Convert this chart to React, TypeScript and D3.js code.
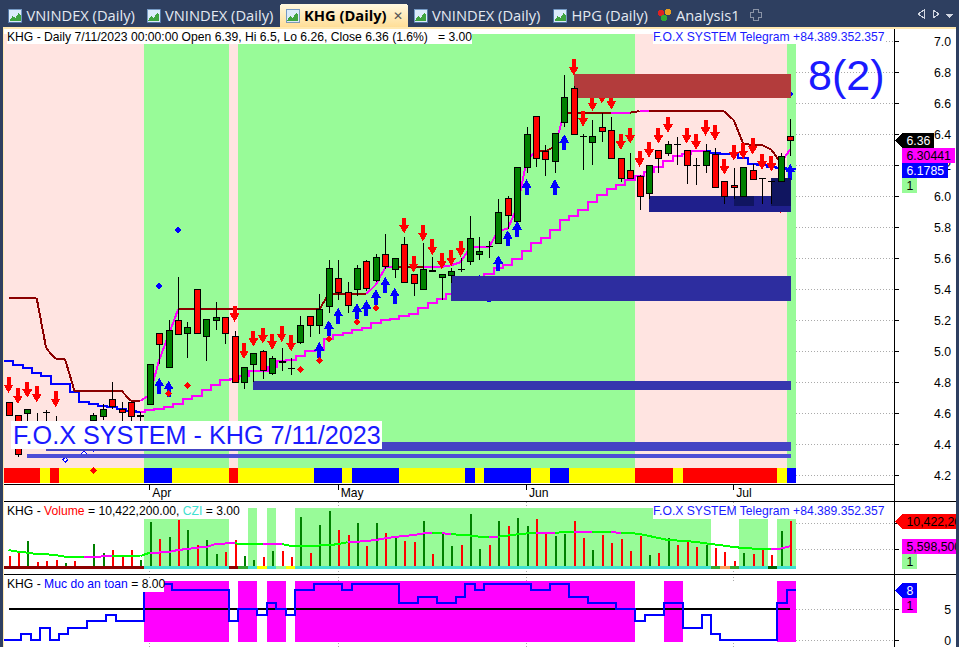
import React from 'react';
import * as d3 from 'd3';

// daily bars
const opens = [4.67,4.59,4.60,4.52,4.61,4.52,4.46,4.50,4.48,4.56,4.58,4.69,4.63,4.67,4.585,4.66,5.12,4.90,5.20,5.12,5.40,5.10,5.20,5.22,5.10,4.80,4.92,5.00,4.86,4.94,4.89,5.06,5.23,5.17,5.29,5.47,5.38,5.40,5.58,5.46,5.63,5.53,5.69,5.50,5.40,5.525,5.48,5.49,5.53,5.58,5.63,5.68,5.70,5.99,5.84,6.19,6.52,6.29,6.23,6.48,6.70,6.39,6.35,6.45,6.43,6.25,6.17,6.13,6.02,6.30,6.28,6.34,6.30,6.20,6.20,6.27,6.10,6.07,6.00,6.17,6.12,6.10,6.10,6.39];
const highs = [4.67,4.59,4.63,4.60,4.62,4.58,4.52,4.53,4.52,4.60,4.66,4.80,4.67,4.67,4.61,4.92,5.12,5.20,5.48,5.19,5.40,5.21,5.32,5.22,5.13,4.90,4.99,5.01,4.97,5.02,4.96,5.23,5.23,5.37,5.59,5.59,5.45,5.56,5.59,5.63,5.76,5.60,5.74,5.50,5.70,5.61,5.50,5.54,5.60,5.87,5.74,5.71,5.98,6.00,6.19,6.45,6.52,6.33,6.41,6.78,6.71,6.40,6.49,6.54,6.51,6.25,6.28,6.14,6.20,6.30,6.36,6.38,6.30,6.25,6.34,6.31,6.10,6.18,6.19,6.21,6.12,6.10,6.28,6.5];
const lows = [4.59,4.32,4.52,4.46,4.48,4.45,4.44,4.44,4.45,4.53,4.56,4.63,4.54,4.54,4.54,4.66,4.92,4.90,5.11,4.96,5.11,4.94,5.14,5.05,4.80,4.76,4.80,4.82,4.85,4.87,4.85,5.05,5.09,5.11,5.25,5.33,5.25,5.36,5.39,5.45,5.53,5.47,5.45,5.36,5.40,5.52,5.33,5.44,5.51,5.56,5.59,5.60,5.69,5.79,5.84,6.15,6.19,6.13,6.15,6.45,6.40,6.17,6.20,6.35,6.25,6.09,6.12,5.91,5.98,6.15,6.26,6.20,6.08,6.07,6.15,6.06,5.95,5.98,6.00,6.11,5.95,5.95,6.10,6.26];
const closes = [4.59,4.34,4.63,4.50,4.61,4.48,4.50,4.46,4.49,4.59,4.63,4.65,4.61,4.58,4.59,4.92,5.05,5.14,5.11,5.16,5.12,5.21,5.22,5.12,4.80,4.90,4.99,4.88,4.96,4.935,4.89,5.17,5.17,5.27,5.54,5.38,5.30,5.54,5.41,5.61,5.55,5.60,5.45,5.44,5.53,5.52,5.50,5.52,5.53,5.73,5.65,5.68,5.90,5.88,6.19,6.40,6.25,6.24,6.41,6.64,6.40,6.39,6.39,6.42,6.25,6.12,6.12,6.00,6.20,6.25,6.34,6.34,6.20,6.20,6.29,6.06,6.00,6.06,6.19,6.11,6.12,6.10,6.26,6.36];

// trailing lines on the price pane
const upperLine = [5.345,5.345,5.345,5.34,5.02,4.95,4.95,4.745,4.745,4.745,4.745,4.745,4.745,4.68,4.68,4.72,4.945,5.105,5.27,5.27,5.27,5.27,5.27,5.27,5.27,5.27,5.27,5.27,5.27,5.27,5.27,5.27,5.27,5.27,5.37,5.37,5.37,5.37,5.37,5.43,5.54,5.545,5.545,5.545,5.545,5.545,5.545,5.555,5.575,5.67,5.67,5.67,5.78,5.79,5.93,6.23,6.29,6.29,6.32,6.54,6.54,6.54,6.54,6.54,6.54,6.54,6.54,6.55,6.55,6.55,6.55,6.55,6.55,6.55,6.55,6.55,6.55,6.49,6.34,6.33,6.33,6.30,6.215,6.30441];
const upperAccentSegments = [14,15,16,17,38,39,40,44,45,46,47,48,49,50,51,52,53,54,55,58,64,65,67,82];
const lowerLine = [4.94,4.91,4.89,4.86,4.84,4.79,4.79,4.74,4.675,4.66,4.65,4.64,4.63,4.615,4.61,4.62,4.63,4.64,4.66,4.69,4.71,4.75,4.78,4.815,4.82,4.84,4.87,4.875,4.90,4.94,4.945,4.97,5.00,5.01,5.08,5.105,5.12,5.14,5.15,5.18,5.20,5.21,5.23,5.24,5.28,5.31,5.34,5.37,5.395,5.43,5.46,5.50,5.535,5.56,5.595,5.65,5.70,5.73,5.78,5.85,5.875,5.91,5.965,6.01,6.05,6.07,6.105,6.13,6.16,6.19,6.23,6.26,6.27,6.29,6.29,6.28,6.27,6.27,6.25,6.21,6.20,6.19,6.185,6.1785];
const lowerAccentFrom = 14;
const lowerAccentTo = 74;

// signal shapes: bar index and price of the tip
const sellBars = [0,1,2,3,5,24,25,26,27,28,29,30,42,43,44,45,46,47,48,60,61,62,63,64,65,66,67,68,69,70,72,73,74,75,76,77,78,79,80,81,82];
const sellPrices = [4.73,4.66,4.70,4.67,4.64,5.19,4.95,5.03,5.05,5.01,5.06,5.00,5.76,5.51,5.71,5.62,5.53,5.55,5.61,6.78,6.45,6.55,6.60,6.56,6.30,6.34,6.19,6.25,6.34,6.41,6.34,6.30,6.39,6.36,6.14,6.23,6.24,6.27,6.17,6.16,5.89];
const buyBars = [15,16,17,33,34,35,37,38,39,40,41,50,51,52,53,54,55,58,59,83];
const buyPrices = [4.47,4.83,4.81,5.06,5.20,5.28,5.31,5.33,5.40,5.48,5.41,5.49,5.42,5.62,5.78,5.84,6.11,6.11,6.40,6.21];
const redDiamondBars = [9,17,19,31,33,34,37,39];
const redDiamondPrices = [4.23,4.73,4.78,4.88,4.94,5.08,5.19,5.28];
const blueDiamondBars = [16,18,83];
const blueDiamondPrices = [5.42,5.78,6.66];
const hollowDiamondBars = [4,6,7,8,9];
const hollowDiamondPrices = [4.39,4.30,4.38,4.34,4.37];

// support / resistance zones: start bar, end bar, top and bottom price
const zoneStarts = [60,68,47,26,4,2,77,81];
const zoneEnds = [83,83,83,83,83,83,79,83];
const zoneTops = [6.79,6.0,5.486,4.808,4.415,4.337,6.0,6.12];
const zoneBottoms = [6.634,5.90,5.325,4.75,4.36,4.31,5.94,5.94];
const zoneFills = ['#B33C3C','#1F1F8C','#2D2D9F','#3636AE','#4444C4','#4D4DD6','#101560','#101560'];

// bar-by-bar state codes
const priceBackground = 'P'.repeat(15) + 'G'.repeat(9) + 'P' + 'G'.repeat(42) + 'P'.repeat(16) + 'G';
const ribbon = 'RRRRYRYYYYYYYYYBBBYYYYYYRYYYYYYYYBBBYBBBBBYYYYYYYBYBBBBBYYBBYYYYYYYRRRRYRRRRRRRRRRYB';
const volumeBackground = 'WWWWWWWWWWWWWWWGGGGGGGGGWWGWGWWGGGGGGGGGGGGGGGGGGGGGGGGGGGGGGGGGGGGGGGGGGGGWWWGGGWGG';
const volumeRibbon = 'DDDDDDDDDDDDDDDCCCCCCCCCDLCYCPYCCCCCCCCCCCCCCCCCCCCCCCCCCCCCCCCCCCCCCCCCCCCLSLCCCKCC';
const safetyBackground = 'WWWWWWWWWWWWWWWMMMMMMMMMWMMWMMWMMMMMMMMMMMMMMMMMMMMMMMMMMMMMMMMMMMMWWWMMWWWWWWWWWWMM';

const volumes = [3.71,4.73,6.54,2.56,2.75,2.94,2.31,2.75,1.65,6.02,4.23,4.87,3.58,4.87,2.94,10.25,6.98,7.37,10.63,8.71,5.83,6.79,4.10,4.48,6.73,3.71,2.94,3.52,4.67,4.67,3.52,11.21,4.29,9.67,12.37,8.71,7.75,10.06,5.63,10.06,8.13,7.37,6.6,6.4,10.44,4.1,8.08,5.63,5.83,11.79,5.06,5.83,10.44,9.48,11.02,9.48,10.83,7.94,7.56,7.94,10.44,7.17,4.87,7.75,6.21,6.98,4.67,7.56,3.9,4.29,7.17,5.83,6.6,5.44,5.83,5.25,4.48,2.75,4.29,4.1,5.06,3.9,8.52,10.4222];
const volumeAverage = [4.87,4.54,4.35,4.10,4.04,3.90,3.58,3.58,3.52,3.58,3.62,3.71,3.71,3.71,3.71,4.35,4.38,4.48,4.87,5.06,5.31,5.44,6.02,6.12,6.15,6.02,6.02,6.02,6.02,6.02,5.63,5.63,5.63,5.73,5.77,6.02,6.35,6.46,6.60,6.79,7.12,7.37,7.56,7.75,8.04,8.19,8.08,7.94,7.75,7.65,7.42,7.42,7.42,7.65,7.88,8.04,8.19,8.19,8.19,8.27,8.38,8.38,8.38,8.38,8.27,8.19,8.13,7.94,7.56,7.17,6.79,6.69,6.6,6.4,6.15,5.92,5.69,5.44,5.25,5.15,5.06,5.06,5.15,5.5985];
const volumeAccentSegments = [8,9,10,15,16,17,18,19,20,21,22,23,27,28,36,37,38,39,40,41,42,43,44,46,51,56,57,60,61,64,81,82];

const safety = [0,0,1,0,2,0,1,2,2,3,3,4,3,3,3,8,8,9,8,8,8,8,8,8,3,5,5,4,6,5,4,8,8,9,9,9,8,9,9,9,9,9,6,6,7,7,6,6,7,9,8,9,9,9,9,9,8,8,9,9,7,7,6,6,6,5,5,3,4,4,6,6,2,2,4,1,0,0,0,0,0,0,6,8];

const priceTicks = [7.0,6.8,6.6,6.4,6.2,6.0,5.8,5.6,5.4,5.2,5.0,4.8,4.6,4.4,4.2];
const volumeGrid = [10,5];
const safetyTicks = [5,0];
const monthLabels = ['Apr','May','Jun','Jul'];
const monthBars = [15,35,55,77];
const tabLabels = ['VNINDEX (Daily)','VNINDEX (Daily)','KHG (Daily)','VNINDEX (Daily)','HPG (Daily)','Analysis1'];
const tabTextX = [26.5,165,304,432,571.5,676];

const W = 959;
const H = 647;
const FONT = '"Liberation Sans", Arial, sans-serif';
const AXIS_X = 894.5;
const FRAME_RIGHT = 956;
const PRICE_TOP = 34;
const PRICE_BOTTOM = 482.7;
const FOX_BLUE = '#1A1AFF';
const CAPTION_SIZE = 12.15;

const x = d3.scaleLinear().domain([0, 83]).range([8.5, 790.3]);
const edge = d3.scaleLinear().domain([15, 84]).range([144, 796]);
const yPrice = d3.scaleLinear().domain([6, 7]).range([196.3, 41.3]);
const yVolume = d3.scaleLinear().domain([0, 10]).range([575.3, 523.3]);
const ySafety = d3.scaleLinear().domain([0, 5]).range([640, 609]);

const bgColors: Record<string, string> = { P: '#FFE4E1', G: '#98FB98', W: '#FFFFFF', M: '#FF00FF' };
const ribbonColors: Record<string, string> = { R: '#FF0000', Y: '#FFFF00', B: '#0000FF' };
const volumeRibbonColors: Record<string, string> = { D: '#8B0000', C: '#40E0D0', L: '#32A832', Y: '#FFFF00', P: '#98FB98', S: '#F4A460', K: '#006400' };

// group a code string into runs of the same code
const runs = (codes: string) => {
  const out: { start: number; end: number; code: string }[] = [];
  codes.split('').forEach((code, i) => {
    const last = out[out.length - 1];
    if (last && last.code === code) last.end = i + 1;
    else out.push({ start: i, end: i + 1, code });
  });
  return out;
};

const Bands = ({ codes, colors, top, bottom }: { codes: string; colors: Record<string, string>; top: number; bottom: number }) => (
  <g>
    {runs(codes).map(r => {
      const left = Math.max(4, Math.round(edge(r.start)));
      return <rect key={r.start} x={left} y={top} width={Math.round(edge(r.end)) - left} height={bottom - top} fill={colors[r.code]} />;
    })}
  </g>
);

const segmentPath = d3.line<[number, number]>().x(d => d[0]).y(d => d[1]);
const stepPath = d3.line<[number, number]>().x(d => d[0]).y(d => d[1]).curve(d3.curveStep);

const downArrow = 'M0,0 L-5,-8.5 L-2,-8.5 L-2,-16 L2,-16 L2,-8.5 L5,-8.5 Z';
const upArrow = 'M0,0 L-5,8.5 L-2,8.5 L-2,16 L2,16 L2,8.5 L5,8.5 Z';
const diamond = (r: number) => `M0,${-r} L${r},0 L0,${r} L${-r},0 Z`;

const Candles = () => (
  <g>
    {opens.map((open, i) => {
      const cx = Math.round(x(i)) + 0.5;
      const close = closes[i];
      const top = Math.round(yPrice(Math.max(open, close))) + 0.5;
      const bottom = Math.round(yPrice(Math.min(open, close))) + 0.5;
      return (
        <g key={i}>
          <line x1={cx} x2={cx} y1={yPrice(highs[i])} y2={yPrice(lows[i])} stroke="#000" />
          {open === close ? (
            <line x1={cx - 3.5} x2={cx + 3.5} y1={top} y2={top} stroke="#000" />
          ) : (
            <rect x={cx - 3} y={top} width={6} height={Math.max(1, bottom - top)} fill={close > open ? '#008000' : '#FF0000'} stroke="#000" />
          )}
        </g>
      );
    })}
  </g>
);

const TagRight = ({ y, h, x0, x1, fill, color, text, pointed }: { y: number; h: number; x0: number; x1: number; fill: string; color: string; text: string; pointed?: boolean }) => (
  <g>
    {pointed ? (
      <path d={`M${x0 - 7},${y + h / 2} L${x0},${y} H${x1} V${y + h} H${x0} Z`} fill={fill} />
    ) : (
      <rect x={x0} y={y} width={x1 - x0} height={h} fill={fill} />
    )}
    <text x={x0 + 4.5} y={y + h / 2 + 4.5} fontSize={12.3} fontFamily={FONT} fill={color}>{text}</text>
  </g>
);

const TabIcon = ({ px }: { px: number }) => (
  <g>
    <rect x={px} y={9} width={13} height={13} fill="#DCEBFA" stroke="#5B86B8" strokeWidth={0.8} />
    <path d={`M${px + 1},21 L${px + 4},16 L${px + 7},18 L${px + 10},13 L${px + 12},15 V21 Z`} fill="#3FA33F" />
  </g>
);

const Tabs = () => (
  <g>
    <rect x={0} y={0} width={W} height={28} fill="#2E3F60" />
    <defs>
      <linearGradient id="activeTab" x1="0" x2="0" y1="0" y2="1">
        <stop offset="0" stopColor="#FFF8E0" />
        <stop offset="1" stopColor="#FFDD94" />
      </linearGradient>
    </defs>
    <path d="M280,28 V7 Q280,4 283,4 H405 Q408,4 408,7 V28 Z" fill="url(#activeTab)" />
    {tabLabels.map((label, i) => (
      <g key={i}>
        {i < 5 && <TabIcon px={tabTextX[i] - 18} />}
        <text
          x={tabTextX[i]}
          y={21}
          fontSize={14.7}
          fontFamily='"Open Sans", "Noto Sans", sans-serif'
          fontWeight={i === 2 ? 700 : 400}
          fill={i === 2 ? '#000' : '#E4E9F2'}
        >
          {label}
        </text>
      </g>
    ))}
    <text x={398} y={20} fontSize={12} fontFamily={FONT} fill="#555" textAnchor="middle">✕</text>
    <g>
      <circle cx={661} cy={13} r={3} fill="#D22" />
      <circle cx={668} cy={12} r={3} fill="#E8A020" />
      <circle cx={664} cy={18} r={3} fill="#3A3" />
    </g>
    <path d="M750,12 h3 v-3 h5 v3 h3 v5 h-3 v3 h-5 v-3 h-3 Z" fill="none" stroke="#8A93A6" />
    <path d="M924,10 L918,14 L924,18 Z M933,10 L939,14 L933,18 Z" fill="none" stroke="#D0D5E0" />
    <path d="M945,14 H953 L949,18 Z" fill="#D0D5E0" />
  </g>
);

export default function App() {
  return (
    <svg
      width={W}
      height={H}
      viewBox={`0 0 ${W} ${H}`}
      shapeRendering="crispEdges"
      style={{ position: 'absolute', left: 0, top: 0, display: 'block', background: '#fff' }}
    >
      {/* grid behind everything */}
      {priceTicks.map(t => (
        <line key={t} x1={4} x2={AXIS_X} y1={yPrice(t)} y2={yPrice(t)} stroke="#aaa" strokeDasharray="1 2" />
      ))}
      {volumeGrid.map(t => (
        <line key={t} x1={4} x2={AXIS_X} y1={yVolume(t)} y2={yVolume(t)} stroke="#aaa" strokeDasharray="1 2" />
      ))}
      {safetyTicks.map(t => (
        <line key={t} x1={4} x2={AXIS_X} y1={ySafety(t)} y2={ySafety(t)} stroke="#aaa" strokeDasharray="1 2" />
      ))}
      {monthBars.map(b => (
        <line key={b} x1={x(b)} x2={x(b)} y1={34} y2={647} stroke="#aaa" strokeDasharray="1 2" />
      ))}

      {/* price pane */}
      <Bands codes={priceBackground} colors={bgColors} top={PRICE_TOP} bottom={PRICE_BOTTOM} />
      <Bands codes={ribbon} colors={ribbonColors} top={468} bottom={PRICE_BOTTOM} />

      {lowerLine.slice(0, -1).map((v, i) => (
        <path
          key={i}
          d={stepPath([[x(i), yPrice(v)], [x(i + 1), yPrice(lowerLine[i + 1])]]) as string}
          fill="none"
          strokeWidth={2}
          stroke={i >= lowerAccentFrom && i < lowerAccentTo ? '#FF00FF' : '#0000FF'}
        />
      ))}
      <line x1={4} x2={x(0)} y1={yPrice(lowerLine[0])} y2={yPrice(lowerLine[0])} stroke="#0000FF" strokeWidth={2} />
      <line x1={x(83)} x2={796} y1={yPrice(lowerLine[83])} y2={yPrice(lowerLine[83])} stroke="#0000FF" strokeWidth={2} />
      {upperLine.slice(0, -1).map((v, i) => (
        <path
          key={i}
          d={segmentPath([[x(i), yPrice(v)], [x(i + 1), yPrice(upperLine[i + 1])]]) as string}
          fill="none"
          strokeWidth={2}
          stroke={upperAccentSegments.includes(i) ? '#FF00FF' : '#8B0000'}
        />
      ))}

      {sellBars.map((b, i) => (
        <path key={b} transform={`translate(${x(b)},${yPrice(sellPrices[i])})`} d={downArrow} fill="#FF0000" />
      ))}
      {buyBars.map((b, i) => (
        <path key={b} transform={`translate(${x(b)},${yPrice(buyPrices[i])})`} d={upArrow} fill="#0000FF" />
      ))}
      {redDiamondBars.map((b, i) => (
        <path key={b} transform={`translate(${x(b)},${yPrice(redDiamondPrices[i])})`} d={diamond(3.5)} fill="#FF0000" />
      ))}
      {blueDiamondBars.map((b, i) => (
        <path key={b} transform={`translate(${x(b)},${yPrice(blueDiamondPrices[i])})`} d={diamond(3.5)} fill="#0000FF" />
      ))}
      {hollowDiamondBars.map((b, i) => (
        <path key={b} transform={`translate(${x(b)},${yPrice(hollowDiamondPrices[i])})`} d={diamond(2.5)} fill="#fff" stroke="#0000FF" />
      ))}

      {zoneStarts.map((s, i) => (
        <rect
          key={i}
          x={x(s)}
          y={yPrice(zoneTops[i])}
          width={x(zoneEnds[i]) - x(s) + 1}
          height={yPrice(zoneBottoms[i]) - yPrice(zoneTops[i])}
          fill={zoneFills[i]}
        />
      ))}

      <Candles />

      {/* price pane captions */}
      <rect x={7} y={30} width={465} height={14} fill="#fff" />
      <text x={7} y={41} fontSize={CAPTION_SIZE} fontFamily={FONT} fill="#000" xmlSpace="preserve">
        KHG - Daily 7/11/2023 00:00:00 Open 6.39, Hi 6.5, Lo 6.26, Close 6.36 (1.6%)   = 3.00
      </text>
      <rect x={653} y={30} width={231} height={14} fill="#fff" />
      <text x={653} y={41} fontSize={CAPTION_SIZE} fontFamily={FONT} fill={FOX_BLUE}>F.O.X SYSTEM Telegram +84.389.352.357</text>
      <text x={808} y={90} fontSize={43} fontFamily={FONT} fill={FOX_BLUE}>8(2)</text>
      <rect x={11} y={421} width={371} height={28} fill="#fff" />
      <text x={13} y={444} fontSize={25.2} fontFamily={FONT} fill={FOX_BLUE}>F.O.X SYSTEM - KHG 7/11/2023</text>

      {/* date row */}
      <rect x={3} y={484} width={AXIS_X - 3} height={17} fill="#fff" />
      {monthBars.map((b, i) => (
        <g key={b}>
          <line x1={x(b)} x2={x(b)} y1={484} y2={490} stroke="#000" />
          <text x={x(b) + 2.5} y={497} fontSize={CAPTION_SIZE} fontFamily={FONT} fill="#000">{monthLabels[i]}</text>
        </g>
      ))}

      {/* volume pane */}
      <Bands codes={volumeBackground} colors={bgColors} top={508} bottom={569} />
      {volumes.map((v, i) => (
        <rect
          key={i}
          x={Math.round(x(i)) - 0.5}
          y={yVolume(v)}
          width={2}
          height={Math.max(0, 569 - yVolume(v))}
          fill={closes[i] > opens[i] ? '#008000' : '#FF0000'}
        />
      ))}
      <Bands codes={volumeRibbon} colors={volumeRibbonColors} top={566} bottom={569} />
      {volumeAverage.slice(0, -1).map((v, i) => (
        <path
          key={i}
          d={segmentPath([[x(i), yVolume(v)], [x(i + 1), yVolume(volumeAverage[i + 1])]]) as string}
          fill="none"
          strokeWidth={2}
          stroke={volumeAccentSegments.includes(i) ? '#FF00FF' : '#00FF00'}
        />
      ))}
      <rect x={7} y={507} width={233} height={12} fill="#fff" />
      <text x={7} y={515} fontSize={CAPTION_SIZE} fontFamily={FONT} fill="#000">
        KHG - <tspan fill="#FF0000">Volume</tspan> = 10,422,200.00, <tspan fill="#40E0D0">CZI</tspan> = 3.00
      </text>
      <rect x={653} y={507} width={231} height={12} fill="#fff" />
      <text x={653} y={515} fontSize={CAPTION_SIZE} fontFamily={FONT} fill={FOX_BLUE}>F.O.X SYSTEM Telegram +84.389.352.357</text>

      {/* safety pane */}
      <Bands codes={safetyBackground} colors={bgColors} top={581} bottom={641.7} />
      <line x1={x(0)} x2={x(83)} y1={ySafety(5)} y2={ySafety(5)} stroke="#000" strokeWidth={2} />
      <path
        d={d3.line<number>().x((_, i) => (i === 0 ? 4 : edge(i))).y(d => ySafety(d)).curve(d3.curveStepAfter)([...safety, safety[83]]) as string}
        fill="none"
        stroke="#0000FF"
        strokeWidth={2}
      />
      <rect x={7} y={578} width={157} height={14} fill="#fff" />
      <text x={7} y={588} fontSize={CAPTION_SIZE} fontFamily={FONT} fill="#000">
        KHG - <tspan fill="#0000FF">Muc do an toan</tspan> = 8.00
      </text>

      {/* separators and right axis */}
      <line x1={3} x2={AXIS_X} y1={484} y2={484} stroke="#000" />
      <line x1={3} x2={FRAME_RIGHT} y1={501.5} y2={501.5} stroke="#000" />
      <line x1={3} x2={FRAME_RIGHT} y1={574.5} y2={574.5} stroke="#000" />
      <line x1={AXIS_X} x2={AXIS_X} y1={28} y2={H} stroke="#000" />
      {priceTicks.map(t => (
        <g key={t}>
          <line x1={AXIS_X} x2={899} y1={yPrice(t)} y2={yPrice(t)} stroke="#000" />
          <text x={951} y={yPrice(t) + 4.5} fontSize={12.3} fontFamily={FONT} textAnchor="end" fill="#000">{t.toFixed(1)}</text>
        </g>
      ))}
      {volumeGrid.map(t => (
        <line key={t} x1={AXIS_X} x2={899} y1={yVolume(t)} y2={yVolume(t)} stroke="#000" />
      ))}
      {safetyTicks.map(t => (
        <g key={t}>
          <line x1={AXIS_X} x2={899} y1={ySafety(t)} y2={ySafety(t)} stroke="#000" />
          <text x={951} y={ySafety(t) + 4.5} fontSize={12.3} fontFamily={FONT} textAnchor="end" fill="#000">{t}</text>
        </g>
      ))}

      <TagRight y={133} h={15} x0={902} x1={934} fill="#000" color="#fff" text="6.36" pointed />
      <TagRight y={148} h={15} x0={902} x1={955} fill="#FF00FF" color="#000" text="6.30441" />
      <TagRight y={163} h={15} x0={902} x1={948} fill="#0000FF" color="#fff" text="6.1785" />
      <TagRight y={178} h={15} x0={902} x1={917} fill="#98FB98" color="#000" text="1" />
      <TagRight y={514} h={15} x0={902} x1={960} fill="#FF0000" color="#000" text="10,422,200" pointed />
      <TagRight y={539} h={15} x0={902} x1={960} fill="#FF00FF" color="#000" text="5,598,500" />
      <TagRight y={554} h={15} x0={902} x1={917} fill="#98FB98" color="#000" text="1" />
      <TagRight y={583} h={15} x0={902} x1={917} fill="#0000FF" color="#fff" text="8" pointed />
      <TagRight y={598} h={15} x0={902} x1={917} fill="#FF00FF" color="#000" text="1" />

      {/* window frame and tab strip */}
      <rect x={0} y={0} width={3} height={H} fill="#2E3F60" />
      <rect x={3} y={27} width={1} height={H - 27} fill="#FFE8B0" />
      <rect x={FRAME_RIGHT} y={0} width={W - FRAME_RIGHT} height={H} fill="#2E3F60" />
      <Tabs />
      <rect x={3} y={27} width={FRAME_RIGHT - 3} height={2} fill="#FFE8B0" />
    </svg>
  );
}
